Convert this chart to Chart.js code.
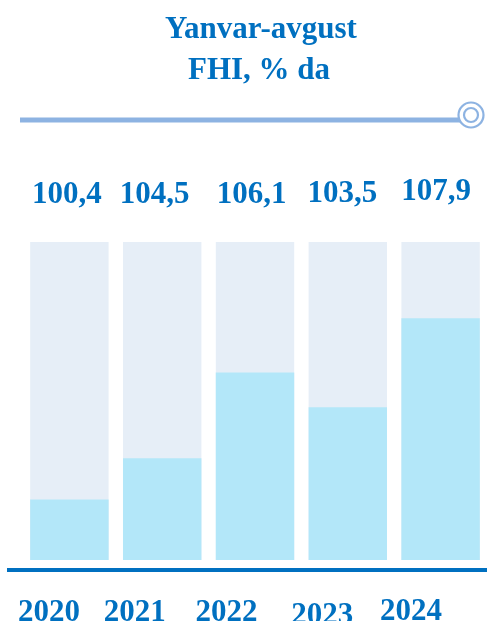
<!DOCTYPE html>
<html>
<head>
<meta charset="utf-8">
<script src="https://cdn.jsdelivr.net/npm/chart.js@4"></script>
<style>
html,body{margin:0;padding:0;background:#fff;}
canvas{display:block;}
</style>
</head>
<body>
<canvas id="c" width="487" height="621"></canvas>
<script>
const titleLines = ['Yanvar-avgust', 'FHI, % da'];
const years = ['2020', '2021', '2022', '2023', '2024'];
const valueLabels = ['100,4', '104,5', '106,1', '103,5', '107,9'];
const fillLevels = [19, 32, 59, 48, 76];
const fullLevels = [100, 100, 100, 100, 100];

const BLUE = '#0070C0';
const LINE = '#8DB3E2';
const SERIF = '"Liberation Serif", "DejaVu Serif", serif';
const valueShift = [-2.5, -7.5, -3.5, -5.5, -4.5];
const valueBase = [203, 203, 203, 202, 200];
const yearShift = [-20.5, -27.5, -28.5, -25.5, -29.5];
const yearBase = [621, 621, 621, 624, 620];

const decor = {
  id: 'decor',
  afterDraw(chart) {
    const ctx = chart.ctx;
    const x = chart.scales.x;
    ctx.save();
    ctx.fillStyle = BLUE;
    ctx.font = 'bold 31px ' + SERIF;
    ctx.textAlign = 'center';
    ctx.textBaseline = 'alphabetic';
    ctx.fillText(titleLines[0], 261, 38);
    ctx.fillText(titleLines[1], 259, 79);
    ctx.strokeStyle = LINE;
    ctx.lineWidth = 5;
    ctx.beginPath();
    ctx.moveTo(20, 120);
    ctx.lineTo(460, 120);
    ctx.stroke();
    ctx.lineWidth = 2.2;
    ctx.fillStyle = '#fff';
    ctx.beginPath();
    ctx.arc(471, 115, 12.5, 0, Math.PI * 2);
    ctx.fill();
    ctx.stroke();
    ctx.beginPath();
    ctx.arc(471, 115, 7, 0, Math.PI * 2);
    ctx.stroke();
    ctx.fillStyle = BLUE;
    ctx.font = 'bold 31px ' + SERIF;
    valueLabels.forEach((t, i) => {
      ctx.fillText(t, x.getPixelForValue(i) + valueShift[i], valueBase[i]);
    });
    ctx.fillRect(7, 568, 480, 4);
    years.forEach((t, i) => {
      ctx.fillText(t, x.getPixelForValue(i) + yearShift[i], yearBase[i]);
    });
    ctx.restore();
  }
};

new Chart(document.getElementById('c'), {
  type: 'bar',
  data: {
    labels: years,
    datasets: [
      { data: fillLevels, backgroundColor: '#B3E7F9', grouped: false, order: 0,
        barPercentage: 0.845, categoryPercentage: 1 },
      { data: fullLevels, backgroundColor: '#E6EEF7', grouped: false, order: 1,
        barPercentage: 0.845, categoryPercentage: 1 }
    ]
  },
  options: {
    responsive: false,
    animation: false,
    layout: { padding: { left: 23, right: 0, top: 242, bottom: 61 } },
    plugins: { legend: { display: false }, tooltip: { enabled: false }, title: { display: false } },
    scales: {
      x: { display: false },
      y: { display: false, min: 0, max: 100 }
    }
  },
  plugins: [decor]
});
</script>
</body>
</html>
